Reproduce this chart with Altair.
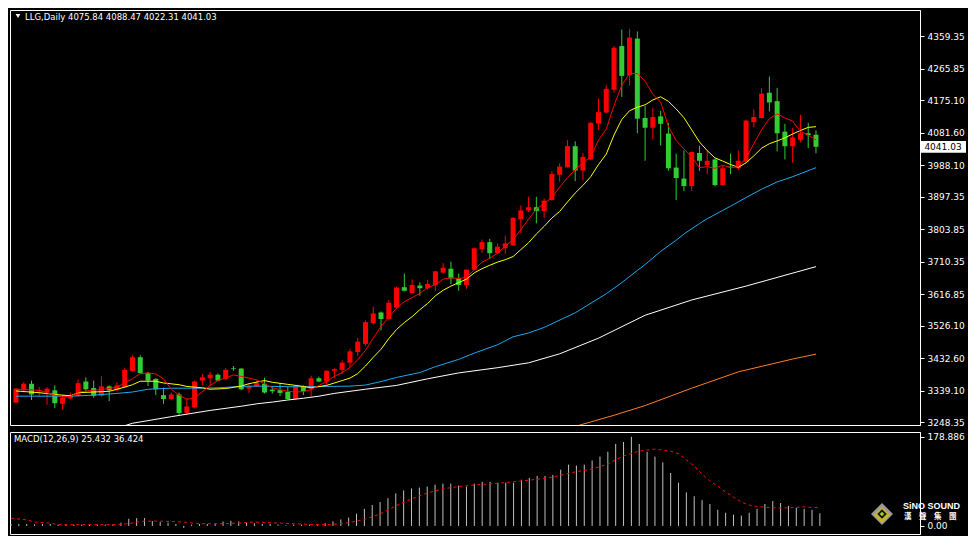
import altair as alt
import pandas as pd

RED = "#ff0000"
GREEN = "#32cd32"
FONT = "DejaVu Sans"

# ---------------- candles (daily OHLC) ----------------
opens = [3304.5, 3340.0, 3358.7, 3337.2, 3333.5, 3340.0, 3300.8, 3316.7, 3324.2, 3365.2,
         3346.5, 3324.2, 3351.2, 3340.0, 3349.3, 3396.0, 3435.2, 3389.5, 3372.7, 3326.0,
         3314.8, 3327.9, 3274.7, 3290.5, 3368.0, 3374.6, 3384.8, 3372.7, 3403.5, 3402.5,
         3344.7, 3351.2, 3358.7, 3341.9, 3340.0, 3335.3, 3314.8, 3349.3, 3344.7, 3374.6,
         3365.2, 3396.0, 3398.8, 3419.3, 3450.1, 3473.5, 3533.2, 3564.0, 3545.3, 3578.0,
         3636.8, 3620.0, 3641.5, 3634.0, 3643.3, 3678.8, 3690.0, 3662.0, 3643.3, 3687.2,
         3746.0, 3766.5, 3734.8, 3748.8, 3757.2, 3832.8, 3858.0, 3867.3, 3856.1, 3887.9,
         3960.7, 3982.1, 4042.8, 3972.8, 4004.5, 4108.1, 4139.9, 4205.2, 4331.2, 4247.2,
         4352.7, 4124.0, 4096.0, 4128.7, 4079.2, 3981.2, 3949.5, 3928.0, 4023.2, 3988.7,
         4004.5, 3930.8, 3984.0, 3979.3, 3998.0, 4111.9, 4124.0, 4196.8, 4172.5, 4084.8,
         4042.8, 4061.5, 4080.1, 4075.84]
highs = [3346.5, 3363.3, 3368.0, 3349.3, 3349.3, 3354.0, 3326.0, 3333.5, 3370.8, 3377.4,
         3368.0, 3380.2, 3354.0, 3363.3, 3405.3, 3439.9, 3440.8, 3393.2, 3374.6, 3347.5,
         3333.5, 3333.5, 3316.7, 3368.0, 3386.7, 3393.2, 3388.5, 3403.5, 3410.0, 3403.5,
         3358.7, 3368.0, 3376.4, 3351.2, 3360.5, 3349.3, 3354.0, 3354.0, 3382.0, 3379.2,
         3397.9, 3403.5, 3425.9, 3458.5, 3491.2, 3540.7, 3580.8, 3566.8, 3599.5, 3638.7,
         3676.0, 3659.2, 3650.8, 3657.3, 3683.5, 3705.9, 3710.5, 3676.0, 3688.1, 3750.7,
         3774.0, 3776.0, 3762.8, 3785.2, 3838.4, 3872.0, 3897.2, 3897.2, 3892.5, 3971.9,
         3993.3, 4060.5, 4056.8, 4023.2, 4111.9, 4180.0, 4219.2, 4331.2, 4378.8, 4380.7,
         4373.2, 4158.5, 4153.9, 4144.5, 4110.0, 4021.3, 4030.7, 4027.9, 4044.7, 4030.7,
         4007.3, 3986.8, 4021.3, 4030.7, 4119.3, 4149.2, 4210.8, 4243.5, 4210.8, 4107.2,
         4096.0, 4133.3, 4110.0, 4088.47]
lows = [3302.7, 3333.5, 3312.0, 3324.0, 3298.0, 3288.7, 3284.0, 3314.8, 3321.4, 3335.4,
        3318.5, 3321.4, 3309.0, 3337.2, 3346.5, 3393.2, 3386.7, 3352.2, 3326.0, 3300.8,
        3312.0, 3267.2, 3270.0, 3286.8, 3354.0, 3351.2, 3366.1, 3369.9, 3396.0, 3340.0,
        3332.5, 3349.3, 3330.7, 3330.7, 3323.2, 3313.9, 3313.9, 3326.0, 3321.4, 3363.3,
        3354.0, 3374.6, 3386.7, 3405.3, 3438.0, 3467.9, 3529.5, 3512.7, 3542.5, 3576.1,
        3624.7, 3620.0, 3612.5, 3629.3, 3626.5, 3676.0, 3646.1, 3626.5, 3632.1, 3685.3,
        3734.8, 3718.0, 3732.0, 3732.0, 3755.4, 3792.7, 3853.3, 3820.7, 3836.5, 3886.0,
        3940.1, 3981.2, 3942.0, 3944.8, 4002.7, 4089.5, 4138.0, 4196.8, 4184.7, 4217.3,
        4080.1, 4000.8, 4063.3, 4044.7, 3971.9, 3887.9, 3914.0, 3914.0, 3971.9, 3962.5,
        3928.0, 3929.9, 3962.5, 3974.7, 3996.1, 4097.9, 4122.1, 4142.7, 4027.9, 4004.5,
        3995.2, 4054.0, 4037.2, 4022.31]
closes = [3344.7, 3358.7, 3327.9, 3340.0, 3344.7, 3302.7, 3318.5, 3326.0, 3360.5, 3342.8,
          3324.2, 3351.2, 3340.0, 3354.0, 3398.8, 3435.2, 3389.5, 3368.0, 3342.8, 3314.8,
          3327.9, 3274.7, 3293.3, 3365.2, 3377.4, 3384.8, 3368.0, 3398.8, 3401.6, 3342.8,
          3351.2, 3360.5, 3333.5, 3337.2, 3332.5, 3314.8, 3351.2, 3337.2, 3374.6, 3365.2,
          3396.0, 3400.7, 3419.3, 3452.0, 3480.0, 3536.0, 3561.2, 3545.3, 3592.0, 3635.9,
          3626.5, 3643.3, 3634.0, 3646.1, 3682.5, 3692.8, 3662.0, 3643.3, 3687.2, 3748.8,
          3766.5, 3734.8, 3753.5, 3762.8, 3836.5, 3858.0, 3867.3, 3856.1, 3886.0, 3962.5,
          3984.0, 4042.8, 3972.8, 4012.0, 4110.0, 4140.8, 4208.0, 4326.5, 4245.3, 4355.5,
          4122.1, 4096.0, 4126.8, 4107.2, 3979.3, 3951.3, 3928.0, 4026.0, 4000.8, 4000.8,
          3930.8, 3979.3, 3982.0, 4000.8, 4116.5, 4126.8, 4194.0, 4168.8, 4080.1, 4042.8,
          4068.0, 4080.1, 4074.5, 4041.03]

# ---------------- moving averages (bar index, value) ----------------
ma5_k = [0, 3, 5, 6, 7, 8, 10, 12, 13, 15, 16, 17, 18, 19, 20, 21, 22, 23, 25, 26,
         28, 29, 30, 31, 32, 33, 35, 36, 37, 38, 39, 40, 41, 42, 43, 44, 45, 46, 47, 48,
         49, 50, 51, 52, 53, 54, 55, 56, 57, 58, 59, 60, 61, 62, 63, 64, 65, 66, 67, 68,
         69, 70, 71, 72, 73, 74, 75, 76, 77, 78, 79, 80, 81, 82, 83, 84, 85, 86, 87, 88,
         89, 90, 91, 92, 93, 94, 95, 96, 97, 98, 99, 100, 101, 102, 103]
ma5_v = [3343, 3340, 3326, 3322, 3322, 3335, 3340, 3345, 3349, 3373, 3388, 3390, 3387, 3373, 3343, 3326, 3314, 3318, 3354, 3368,
         3384, 3380, 3375, 3370, 3359, 3347, 3337, 3335, 3336, 3342, 3354, 3365, 3380, 3391, 3405, 3428, 3455, 3490, 3524, 3550,
         3577, 3595, 3607, 3619, 3636, 3644, 3660, 3664, 3662, 3665, 3687, 3709, 3720, 3735, 3755, 3774, 3802, 3833, 3862, 3878,
         3895, 3925, 3952, 3975, 3995, 4012, 4060, 4092, 4160, 4218, 4252, 4252, 4230, 4192, 4170, 4100, 4059, 4035, 4012, 3981,
         3984, 3979, 3988, 3981, 3984, 4008, 4050, 4090, 4122, 4136, 4124, 4115, 4085, 4075, 4061]

ma10_k = [0, 3, 5, 7, 8, 10, 12, 14, 15, 16, 18, 19, 21, 22, 24, 25, 27, 29, 30, 32,
          33, 35, 37, 38, 40, 42, 43, 44, 45, 46, 47, 48, 49, 50, 51, 52, 53, 54, 55, 56,
          57, 58, 59, 60, 61, 62, 63, 64, 65, 66, 67, 68, 69, 70, 71, 72, 73, 74, 75, 76,
          77, 78, 79, 80, 81, 82, 83, 84, 85, 86, 87, 88, 89, 90, 91, 92, 93, 94, 95, 96,
          97, 98, 99, 100, 101, 102, 103]
ma10_v = [3338, 3333, 3328, 3324, 3333, 3335, 3337, 3349, 3356, 3366, 3366, 3361, 3356, 3351, 3347, 3343, 3345, 3352, 3359, 3368,
          3363, 3357, 3351, 3347, 3354, 3368, 3375, 3388, 3410, 3435, 3458, 3489, 3515, 3535, 3552, 3572, 3590, 3612, 3628, 3640,
          3650, 3660, 3678, 3690, 3700, 3709, 3716, 3725, 3745, 3765, 3790, 3812, 3836, 3855, 3882, 3908, 3930, 3955, 3990, 4020,
          4075, 4120, 4145, 4155, 4162, 4176, 4185, 4172, 4150, 4125, 4090, 4055, 4030, 4009, 4000, 3990, 3982, 3995, 4015, 4037,
          4050, 4058, 4067, 4078, 4088, 4097, 4099]

blue_k = [0, 7, 10, 13, 15, 17, 20, 24, 26, 29, 31, 36, 40, 43, 45, 47, 49, 52, 54, 57,
          59, 62, 64, 66, 68, 72, 76, 78, 80, 81, 83, 85, 86, 88, 89, 91, 92, 94, 96, 98,
          100, 103]
blue_v = [3323, 3323, 3326, 3331, 3335, 3343, 3346, 3346, 3347, 3351, 3352, 3350, 3351, 3352, 3355, 3365, 3377, 3391, 3408, 3429,
          3447, 3471, 3494, 3505, 3521, 3563, 3618, 3650, 3685, 3702, 3740, 3772, 3790, 3820, 3834, 3858, 3870, 3895, 3919, 3940,
          3955, 3981]

white_k = [14, 15, 20, 25, 29, 31, 33, 35, 37, 39, 41, 45, 49, 53, 57, 62, 66, 70, 75, 81,
           87, 94, 103]
white_v = [3238, 3245, 3264, 3282, 3294, 3301, 3306, 3312, 3317, 3323, 3331, 3343, 3354, 3373, 3390, 3405, 3419, 3445, 3490, 3556,
           3600, 3640, 3696]

orange_k = [72, 77, 81, 87, 93, 100, 103]
orange_v = [3236, 3268, 3296, 3346, 3393, 3430, 3444]

price_ticks = [4359.35, 4265.85, 4175.10, 4081.60, 3988.10, 3897.35, 3803.85,
               3710.35, 3616.85, 3526.10, 3432.60, 3339.10, 3248.35]

# ---------------- MACD(12,26,9) ----------------
macd_hist = [4, 4, 4, 3.3, 4, 4, 2.6, 2.6, 2.6, 2.6,
             2.6, 2.6, 2.6, 3.3, 6.6, 14.3, 15.6, 15.6, 9.7, 7.8,
             6.6, 4, -3.9, 2.6, 4, 4, 4, 9, 10.4, 9,
             6.6, 5.2, 3.9, 3.9, 2.6, 1.3, 2.6, 2.6, 2.6, 2.6,
             5.2, 9.1, 13, 16.8, 24.6, 34.3, 42.1, 47.9, 55.7, 65.4,
             71.3, 75.2, 77.1, 79.1, 83, 84.9, 84.9, 81, 79.1, 84.9,
             88.8, 88.8, 86.9, 86.9, 86.9, 92.7, 96.6, 100.4, 100.4, 102.4,
             113, 123.1, 121.2, 123.1, 131.5, 139.3, 149, 164.6, 168.5, 178.886,
             164.6, 149, 139.3, 127.7, 106.3, 86.9, 67.4, 59.6, 51.8, 44.1,
             32.4, 26.6, 22.7, 20.7, 26.6, 34.3, 44.1, 49.9, 46, 40.2,
             36.3, 34.3, 32.4, 25.432]
sig_k = [0, 2, 3, 5, 6, 8, 13, 15, 16, 17, 19, 22, 24, 27, 29, 31, 34, 36, 39, 41,
         43, 45, 47, 49, 51, 53, 55, 57, 59, 62, 64, 66, 68, 70, 72, 74, 76, 78, 80, 82,
         84, 85, 86, 87, 88, 89, 90, 91, 92, 93, 94, 95, 97, 99, 101, 103]
sig_v = [15.6, 12.3, 7.8, 5.8, 2.6, 2.6, 2.6, 4.5, 7.8, 9.7, 9.7, 7.8, 4.5, 4.5, 5.8, 7.8, 5.8, 4.5, 2.6, 3.2,
         6.5, 13, 24, 40.2, 54.4, 66.1, 74.5, 79.1, 82.3, 85.5, 88.8, 92, 95.3, 101.7, 109, 114, 124.4, 140.6, 150.3, 154.2,
         150, 145, 133, 120, 104, 90, 80, 68, 58, 48, 42, 39, 36.3, 36.3, 38.2, 36.424]
macd_ticks = [178.886, 0]

# ---------------- layout ----------------
W, H1, H2 = 910, 415, 102
n = len(opens)
direction = ["up" if c >= o else "down" for o, c in zip(opens, closes)]
candles = pd.DataFrame({"k": list(range(n)), "open": opens, "high": highs,
                        "low": lows, "close": closes, "dir": direction})

xs = alt.Scale(domain=[-0.125, 115.75], nice=False, zero=False)
ys = alt.Scale(domain=[3240, 4435], nice=False, zero=False)
ms = alt.Scale(domain=[-16.2, 188.6], nice=False, zero=False)

X = alt.X("k:Q", scale=xs, axis=None)
yaxis = alt.Axis(orient="right", values=price_ticks, format=".2f", title=None,
                 grid=False, labelOverlap=False, labelFlush=False)
col = alt.Color("dir:N", scale=alt.Scale(domain=["up", "down"], range=[RED, GREEN]), legend=None)

wicks = alt.Chart(candles).mark_rule(strokeWidth=1, clip=True).encode(
    x=X, y=alt.Y("low:Q", scale=ys, axis=yaxis), y2="high:Q", color=col)
bodies = alt.Chart(candles).mark_bar(size=5, clip=True).encode(
    x=X, y=alt.Y("open:Q", scale=ys, axis=yaxis), y2="close:Q", color=col)


def ma_line(ks, vs, color):
    df = pd.DataFrame({"k": ks, "v": vs})
    return alt.Chart(df).mark_line(color=color, strokeWidth=1, clip=True).encode(
        x=X, y=alt.Y("v:Q", scale=ys, axis=yaxis))


orange = ma_line(orange_k, orange_v, "#ff7f27")
white = ma_line(white_k, white_v, "#ffffff")
blue = ma_line(blue_k, blue_v, "#1ea8f0")
yellow = ma_line(ma10_k, ma10_v, "#ffff00")
red = ma_line(ma5_k, ma5_v, RED)

last = closes[-1]
pb = pd.DataFrame({"p": [last], "lab": [f"{last:.2f}"]})
box = alt.Chart(pb).transform_calculate(lo="datum.p - 17", hi="datum.p + 17").mark_rect(
    color="white", clip=False).encode(
    x=alt.value(W + 1), x2=alt.value(W + 46),
    y=alt.Y("lo:Q", scale=ys, axis=yaxis), y2="hi:Q")
boxtxt = alt.Chart(pb).mark_text(color="black", font=FONT, fontSize=9, align="center",
                                 baseline="middle").encode(
    x=alt.value(W + 23), y=alt.Y("p:Q", scale=ys, axis=yaxis), text="lab:N")

one = pd.DataFrame({"a": [0]})
head_text = f"LLG,Daily  {opens[-1]:.2f} {highs[-1]:.2f} {lows[-1]:.2f} {closes[-1]:.2f}"
header = alt.Chart(one).mark_text(text=head_text, align="left", baseline="middle",
                                  color="white", font=FONT, fontSize=8.5).encode(
    x=alt.value(15), y=alt.value(7))
tri = alt.Chart(one).mark_point(shape="triangle-down", filled=True, size=22,
                                color="white", opacity=1).encode(
    x=alt.value(8), y=alt.value(6))

main = alt.layer(wicks, bodies, orange, white, blue, yellow, red, box, boxtxt,
                 header, tri).properties(width=W, height=H1)

maxis = alt.Axis(orient="right", values=macd_ticks, title=None, grid=False,
                 labelOverlap=False, labelFlush=False,
                 labelExpr="datum.value == 0 ? '0.00' : '178.886'")
macd_df = pd.DataFrame({"k": list(range(n)), "h": macd_hist})
hist = alt.Chart(macd_df).mark_rule(color="#c0c0c0", strokeWidth=1, clip=True).encode(
    x=X, y=alt.Y("h:Q", scale=ms, axis=maxis), y2=alt.datum(0))
sig_df = pd.DataFrame({"k": sig_k, "v": sig_v})
sig = alt.Chart(sig_df).mark_line(color=RED, strokeWidth=1, strokeDash=[3, 3], clip=True).encode(
    x=X, y=alt.Y("v:Q", scale=ms, axis=maxis))
macd_text = f"MACD(12,26,9) {macd_hist[-1]:.3f} {sig_v[-1]:.3f}"
mlabel = alt.Chart(one).mark_text(text=macd_text, align="left", baseline="middle",
                                  color="white", font=FONT, fontSize=8.5).encode(
    x=alt.value(4), y=alt.value(7))

logo_outer = alt.Chart(one).mark_point(shape="diamond", filled=True, size=484,
                                       color="#9a9a9a", opacity=1).encode(
    x=alt.value(872), y=alt.value(82))
logo_mid = alt.Chart(one).mark_point(shape="diamond", filled=True, size=260,
                                     color="#c8b428", opacity=1).encode(
    x=alt.value(872), y=alt.value(83))
logo_in = alt.Chart(one).mark_point(shape="diamond", filled=True, size=90,
                                    color="#111111", opacity=1).encode(
    x=alt.value(872), y=alt.value(82))
logo_c = alt.Chart(one).mark_point(shape="diamond", filled=True, size=22,
                                   color="#9acd32", opacity=1).encode(
    x=alt.value(872), y=alt.value(82))
logo_en = alt.Chart(one).mark_text(text="SiNO SOUND", align="left", baseline="middle",
                                   color="white", font="Liberation Sans", fontWeight="bold",
                                   fontSize=9).encode(x=alt.value(893), y=alt.value(74))
logo_zh = alt.Chart(one).mark_text(text="漢\u3000聲\u3000集\u3000團", align="left",
                                   baseline="middle", color="white",
                                   font="Noto Sans CJK TC", fontWeight="bold",
                                   fontSize=7.5).encode(x=alt.value(894), y=alt.value(85))

macd = alt.layer(hist, sig, mlabel, logo_outer, logo_mid, logo_in, logo_c,
                 logo_en, logo_zh).properties(width=W, height=H2)

chart = alt.vconcat(main, macd, spacing=3).properties(
    background="black",
    padding={"left": 1, "top": 1, "right": 1, "bottom": 1},
).configure_view(stroke="white", strokeWidth=1).configure_axis(
    labelFont=FONT, labelFontSize=9, labelColor="white", tickColor="white",
    domainColor="white", tickSize=4, labelPadding=3, grid=False)

chart.save("out.html", embed_options={"renderer": "svg", "actions": False})
